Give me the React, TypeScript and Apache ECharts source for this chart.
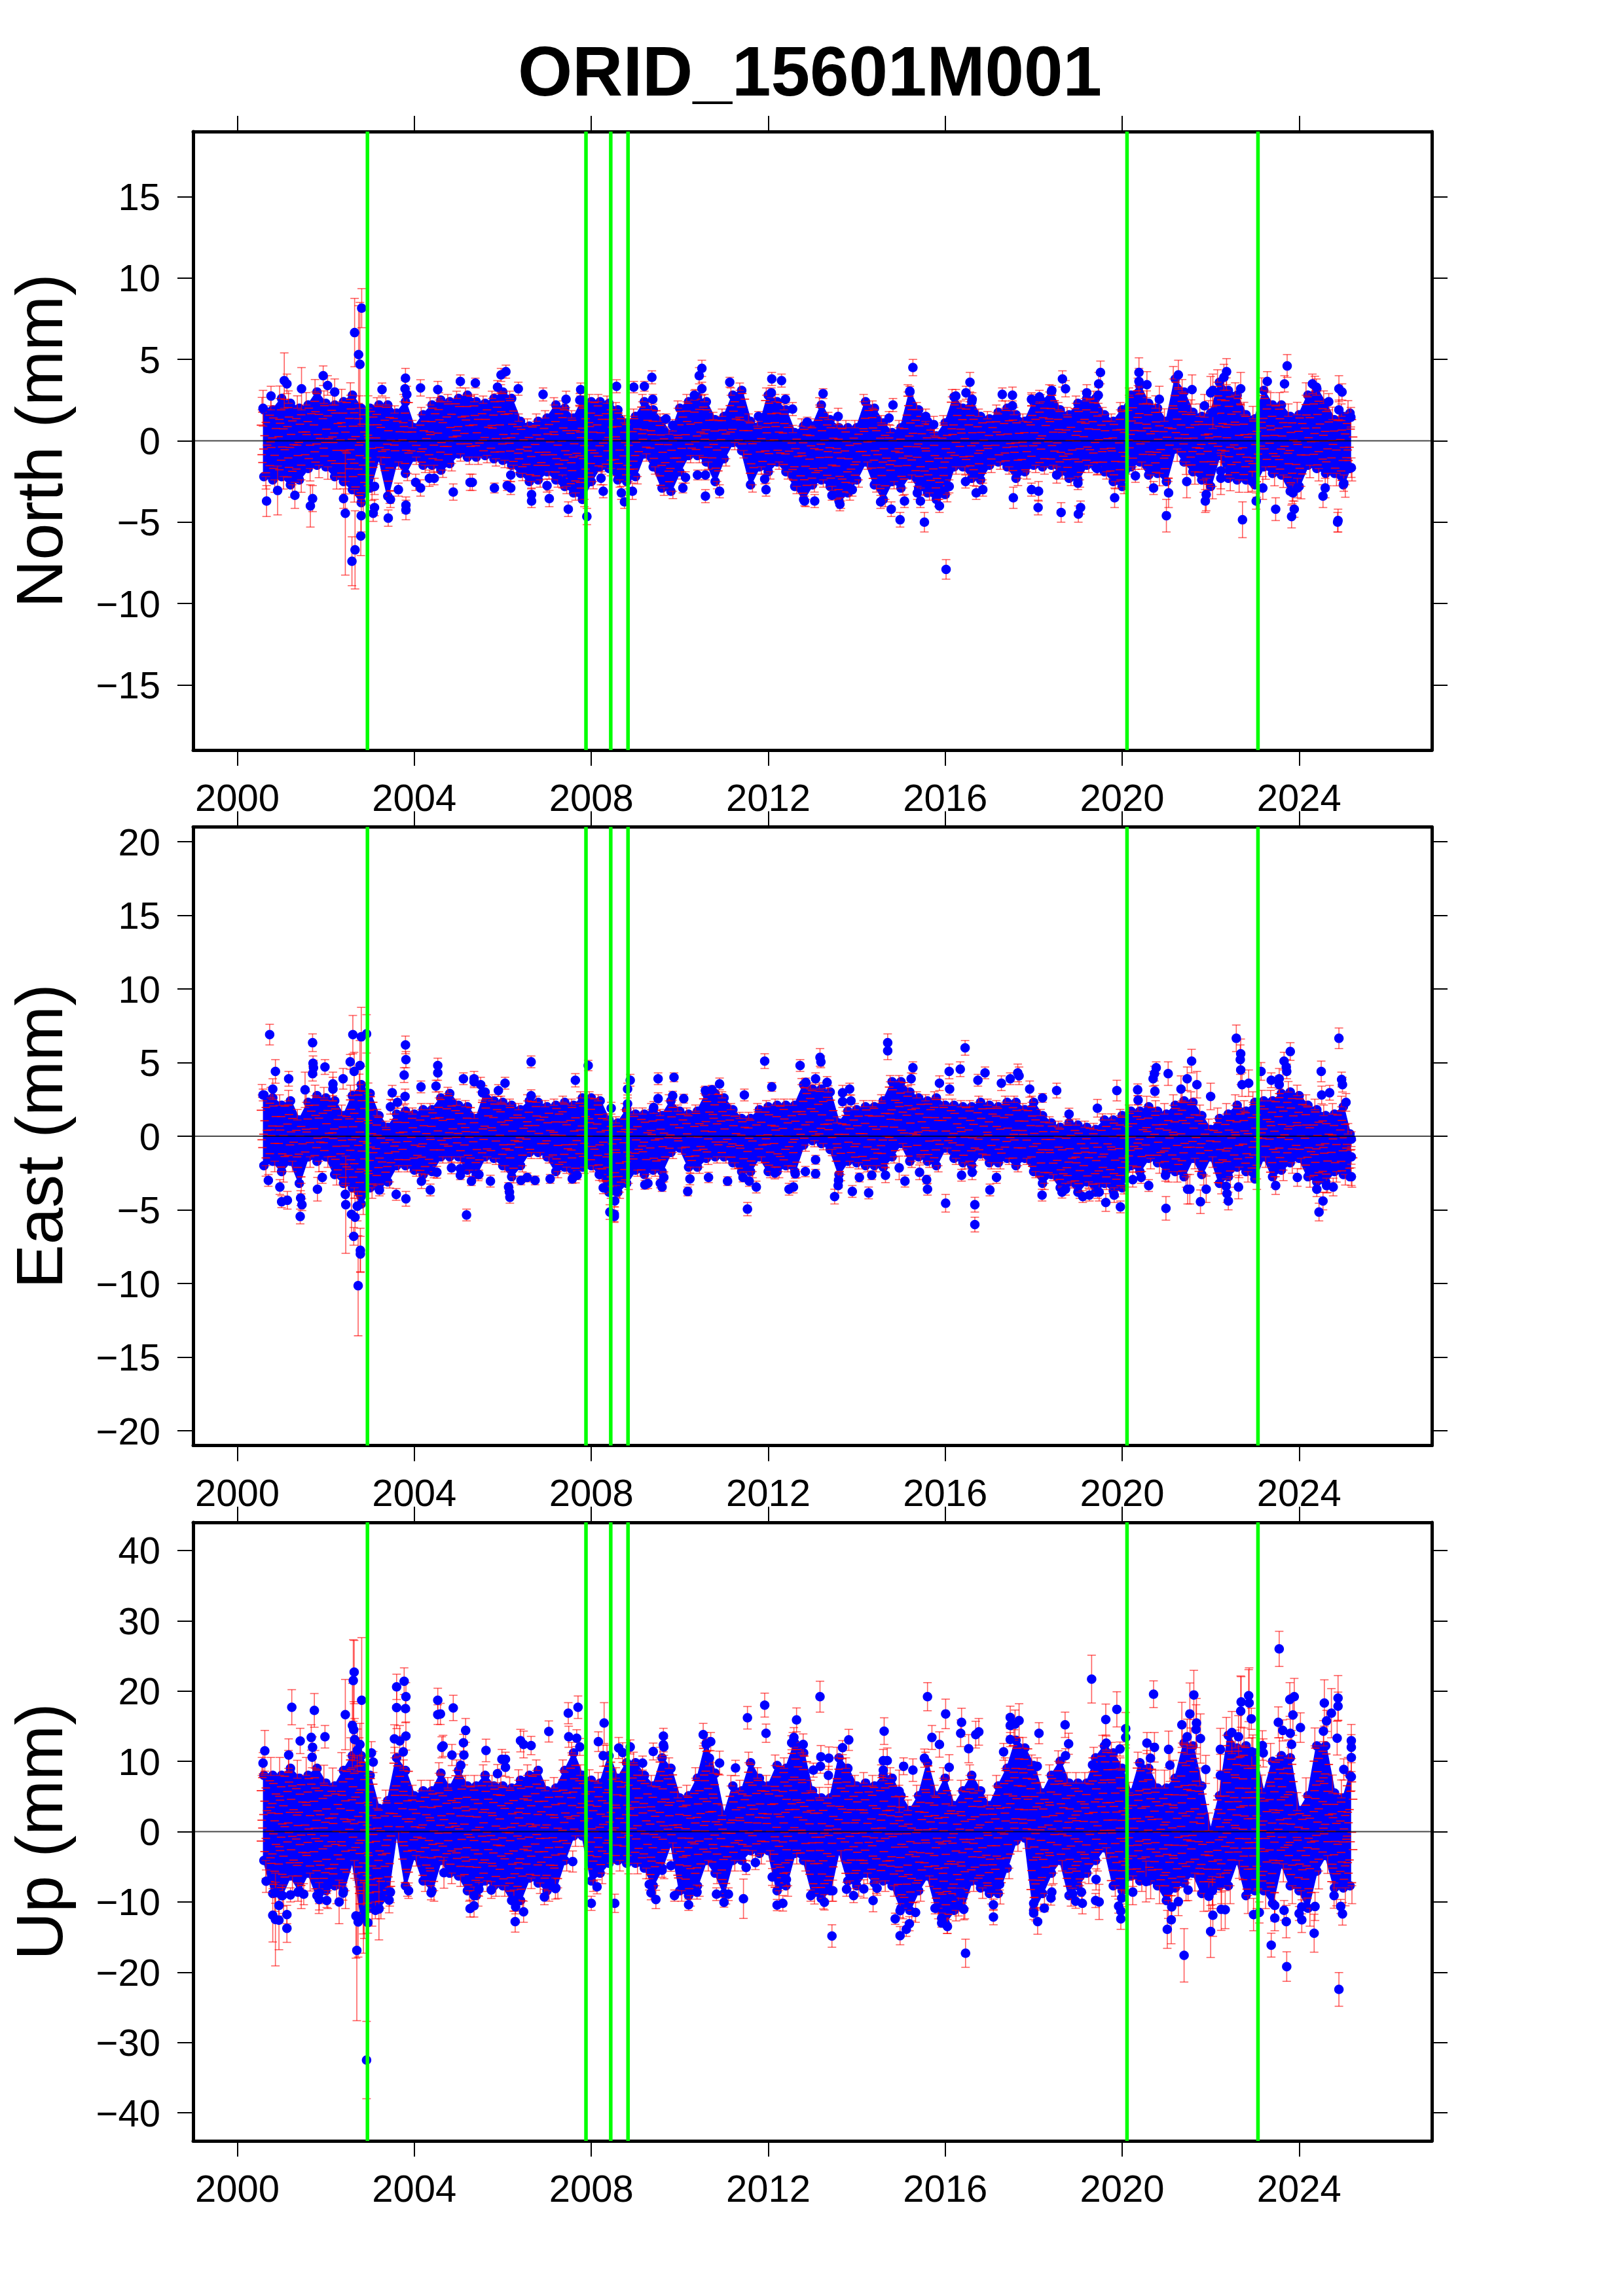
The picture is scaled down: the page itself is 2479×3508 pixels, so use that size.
import React, { useEffect, useRef } from "react";
import * as echarts from "echarts";

const title = "ORID_15601M001";
const yearTicks = [2000, 2004, 2008, 2012, 2016, 2020, 2024];
const northTicks = [-15, -10, -5, 0, 5, 10, 15];
const eastTicks = [-20, -15, -10, -5, 0, 5, 10, 15, 20];
const upTicks = [-40, -30, -20, -10, 0, 10, 20, 30, 40];
const offsetYears = [2002.94, 2007.88, 2008.44, 2008.83, 2020.11, 2023.07];

// Sample times of the dense core of each series (2000.6 to 2025.0 every 0.2, then the last epoch)
const coreYears = [
  2000.6, 2000.8, 2001.0, 2001.2, 2001.4, 2001.6, 2001.8, 2002.0, 2002.2, 2002.4,
  2002.6, 2002.8, 2003.0, 2003.2, 2003.4, 2003.6, 2003.8, 2004.0, 2004.2, 2004.4,
  2004.6, 2004.8, 2005.0, 2005.2, 2005.4, 2005.6, 2005.8, 2006.0, 2006.2, 2006.4,
  2006.6, 2006.8, 2007.0, 2007.2, 2007.4, 2007.6, 2007.8, 2008.0, 2008.2, 2008.4,
  2008.6, 2008.8, 2009.0, 2009.2, 2009.4, 2009.6, 2009.8, 2010.0, 2010.2, 2010.4,
  2010.6, 2010.8, 2011.0, 2011.2, 2011.4, 2011.6, 2011.8, 2012.0, 2012.2, 2012.4,
  2012.6, 2012.8, 2013.0, 2013.2, 2013.4, 2013.6, 2013.8, 2014.0, 2014.2, 2014.4,
  2014.6, 2014.8, 2015.0, 2015.2, 2015.4, 2015.6, 2015.8, 2016.0, 2016.2, 2016.4,
  2016.6, 2016.8, 2017.0, 2017.2, 2017.4, 2017.6, 2017.8, 2018.0, 2018.2, 2018.4,
  2018.6, 2018.8, 2019.0, 2019.2, 2019.4, 2019.6, 2019.8, 2020.0, 2020.2, 2020.4,
  2020.6, 2020.8, 2021.0, 2021.2, 2021.4, 2021.6, 2021.8, 2022.0, 2022.2, 2022.4,
  2022.6, 2022.8, 2023.0, 2023.2, 2023.4, 2023.6, 2023.8, 2024.0, 2024.2, 2024.4,
  2024.6, 2024.8, 2025.0, 2025.15,
];

const northHigh = [
  1.9, 1.9, 2.6, 2.3, 2.0, 2.2, 3.0, 2.3, 2.2, 2.4,
  2.8, 2.0, 2.0, 2.2, 2.2, 1.7, 2.4, 0.8, 1.6, 2.2,
  2.5, 2.4, 2.6, 2.8, 2.4, 2.3, 2.6, 3.0, 2.6, 1.2,
  0.9, 1.2, 1.4, 2.2, 2.0, 1.4, 2.5, 2.4, 2.4, 2.3,
  1.9, 1.1, 1.5, 2.4, 1.9, 1.2, 0.4, 2.0, 2.4, 2.7,
  2.4, 1.3, 1.5, 2.8, 3.1, 1.2, 0.9, 2.8, 2.4, 1.9,
  0.5, 0.9, 0.9, 2.2, 1.3, 0.8, 0.8, 0.8, 2.4, 2.0,
  1.1, 0.5, 0.8, 3.0, 1.9, 1.2, 0.3, 1.1, 2.7, 2.0,
  2.4, 1.5, 1.35, 1.75, 2.0, 1.6, 1.2, 2.4, 2.4, 3.0,
  1.9, 1.6, 2.3, 2.6, 2.6, 1.6, 1.2, 1.9, 2.8, 3.4,
  2.3, 2.0, 1.2, 3.8, 3.0, 1.75, 1.5, 1.7, 3.6, 3.1,
  2.8, 1.6, 1.35, 3.1, 2.2, 2.2, 1.5, 1.6, 2.8, 3.2,
  2.3, 1.3, 1.5, 1.7,
];
const northLow = [
  -2.2, -2.4, -2.2, -2.7, -2.4, -1.7, -1.5, -1.6, -2.2, -2.5,
  -3.0, -3.8, -2.9, -1.0, -3.4, -1.3, -2.0, -1.0, -1.5, -1.5,
  -1.8, -1.4, -0.8, -1.0, -1.0, -0.9, -1.1, -1.2, -1.5, -2.0,
  -2.5, -2.4, -1.9, -2.4, -2.8, -3.2, -3.6, -2.5, -1.6, -1.7,
  -2.4, -2.5, -2.2, -0.8, -1.6, -2.9, -3.1, -1.9, -0.9, -0.9,
  -1.3, -2.5, -1.1, -0.1, -0.6, -2.7, -1.6, -1.9, -1.3, -1.9,
  -2.8, -3.6, -2.7, -2.4, -2.8, -3.7, -3.2, -2.4, -1.3, -2.7,
  -3.6, -2.5, -2.9, -2.1, -2.9, -3.2, -3.6, -3.3, -1.6, -1.6,
  -2.3, -2.4, -1.5, -1.3, -1.6, -2.3, -1.9, -1.5, -1.6, -1.5,
  -1.9, -2.3, -2.4, -1.5, -1.6, -1.9, -2.5, -2.8, -1.6, -1.3,
  -2.1, -2.0, -2.5, -0.5, -1.3, -1.9, -2.4, -2.8, -0.9, -2.3,
  -2.4, -2.4, -2.7, -1.6, -2.0, -2.1, -3.1, -2.8, -1.5, -1.7,
  -2.0, -2.0, -2.7, -1.7,
];
const eastHigh = [
  2.8, 2.6, 2.1, 2.4, 1.1, 2.3, 2.75, 2.6, 2.4, 1.4,
  2.75, 3.5, 2.9, 1.4, 0.6, 1.5, 1.7, 1.5, 1.8, 1.8,
  2.6, 2.9, 2.1, 2.0, 1.2, 3.0, 2.4, 2.3, 2.1, 1.8,
  2.4, 2.3, 2.0, 2.1, 2.3, 2.1, 2.6, 2.6, 2.4, 1.1,
  0.9, 1.8, 1.5, 1.5, 1.8, 1.4, 2.4, 1.7, 1.5, 1.7,
  2.9, 2.9, 2.6, 1.8, 1.2, 1.2, 1.8, 2.0, 2.1, 2.1,
  2.1, 3.5, 3.2, 3.2, 3.0, 0.9, 1.7, 1.8, 2.0, 2.0,
  2.4, 3.7, 3.7, 3.0, 2.6, 2.4, 2.6, 2.1, 2.1, 2.0,
  2.0, 2.3, 2.1, 2.0, 2.3, 2.3, 1.8, 2.3, 1.4, 0.9,
  0.6, 0.9, 0.75, 0.6, 0.45, 1.1, 1.1, 1.4, 1.7, 1.7,
  2.0, 1.7, 1.5, 2.1, 2.4, 2.3, 1.4, 0.45, 1.2, 1.5,
  2.1, 1.7, 2.3, 2.4, 2.4, 2.9, 3.0, 2.75, 2.1, 1.8,
  1.4, 1.5, 2.0, 0.15,
];
const eastLow = [
  -2.0, -1.7, -2.4, -1.7, -3.2, -1.4, -1.7, -1.4, -2.6, -3.2,
  -3.5, -4.6, -3.5, -3.5, -3.1, -2.0, -2.0, -2.3, -2.6, -2.4,
  -1.4, -1.4, -1.4, -2.3, -2.6, -1.4, -1.5, -2.0, -2.75, -2.0,
  -1.1, -1.1, -1.4, -2.4, -2.1, -2.75, -2.1, -2.0, -2.6, -3.8,
  -3.8, -3.2, -2.3, -2.6, -2.3, -2.4, -1.1, -0.8, -2.1, -2.1,
  -1.5, -1.4, -1.4, -1.8, -2.4, -2.4, -1.4, -2.4, -2.4, -2.0,
  -2.4, -0.6, -0.3, -0.5, -0.9, -2.6, -1.7, -1.8, -2.0, -2.0,
  -2.1, -1.4, -0.5, -1.7, -1.4, -1.7, -2.0, -0.8, -1.5, -1.8,
  -2.0, -1.2, -1.8, -1.8, -1.5, -2.0, -1.5, -2.4, -3.2, -2.6,
  -3.5, -3.1, -3.8, -3.1, -3.8, -3.2, -3.7, -3.5, -2.0, -2.4,
  -1.5, -1.8, -2.4, -2.4, -2.75, -1.5, -2.6, -1.4, -3.2, -2.75,
  -2.1, -2.4, -2.9, -1.4, -2.75, -2.3, -1.8, -1.5, -2.75, -3.1,
  -3.1, -2.4, -2.6, -2.75,
];
const upHigh = [
  8.0, 8.0, 8.0, 9.0, 7.6, 8.0, 9.0, 6.9, 6.5, 8.7,
  10.8, 10.8, 8.0, 3.3, 4.4, 10.5, 8.7, 5.1, 5.8, 5.8,
  8.3, 6.2, 8.7, 6.5, 6.5, 8.0, 6.5, 6.5, 6.2, 7.3,
  8.0, 8.7, 5.8, 6.2, 8.7, 11.2, 8.0, 7.3, 6.9, 10.8,
  7.6, 9.8, 9.8, 8.0, 6.5, 10.5, 9.0, 4.8, 5.1, 7.6,
  12.6, 8.3, 2.3, 6.5, 5.8, 9.8, 7.6, 6.5, 9.4, 9.0,
  12.6, 11.2, 5.8, 4.8, 4.8, 10.5, 9.0, 6.5, 6.9, 6.5,
  8.0, 7.6, 5.1, 3.0, 5.1, 9.8, 5.1, 7.6, 3.7, 5.8,
  8.0, 5.8, 3.7, 6.5, 9.0, 13.0, 11.9, 9.4, 5.5, 8.0,
  10.0, 6.9, 6.9, 6.9, 10.5, 12.2, 11.2, 9.0, 5.5, 9.8,
  9.0, 6.2, 6.2, 7.6, 12.6, 12.2, 6.5, 0.1, 5.1, 13.7,
  11.9, 12.2, 11.2, 5.5, 10.0, 10.8, 10.5, 3.0, 5.1, 12.2,
  12.2, 5.5, 4.8, 8.0,
];
const upLow = [
  -4.1, -8.8, -9.1, -6.3, -8.4, -5.9, -9.1, -8.4, -7.7, -8.4,
  -4.1, -12.0, -10.9, -10.9, -9.1, 0.0, -7.7, -3.4, -7.0, -8.4,
  -4.1, -5.9, -6.3, -8.4, -9.1, -7.0, -7.7, -7.7, -9.8, -9.8,
  -6.6, -7.3, -8.4, -8.0, -4.1, -0.6, -0.6, -7.0, -5.9, -4.5,
  -4.1, -4.5, -4.5, -5.2, -7.7, -5.2, -1.6, -8.4, -9.1, -7.7,
  -4.1, -5.9, -8.8, -4.1, -4.1, -2.7, -3.1, -2.7, -8.4, -7.7,
  -3.1, -4.1, -8.8, -9.5, -8.4, -2.7, -7.0, -7.7, -5.9, -7.3,
  -7.0, -7.7, -10.9, -11.2, -8.4, -6.3, -10.9, -13.0, -11.2, -10.9,
  -7.0, -8.0, -8.8, -8.8, -5.2, -1.3, -0.9, -11.2, -8.8, -5.9,
  -4.1, -9.1, -7.7, -5.9, -4.1, -2.3, -7.7, -8.4, -6.3, -7.0,
  -7.0, -7.7, -9.8, -8.0, -7.3, -5.9, -8.8, -8.4, -7.7, -7.7,
  -4.1, -9.1, -8.4, -8.4, -10.2, -4.6, -7.7, -8.4, -10.9, -5.6,
  -3.4, -8.0, -8.0, -7.7,
];

// Separately readable epochs: [year, value, sigma]
const northPoints = [
  [2000.58,2.0,1.1],[2000.66,-3.7,0.95],[2000.76,2.75,0.6],[2001.06,3.7,1.7],[2001.12,3.5,0.6],[2000.91,-3.05,1.5],[2001.3,-3.35,0.8],[2001.45,3.2,1.3],[2001.65,-4.0,1.3],[2001.7,-3.55,0.8],
  [2001.94,4.0,0.6],[2002.04,3.4,0.6],[2002.2,3.0,0.8],[2002.4,-3.55,0.6],[2002.44,-4.45,3.8],[2002.65,6.65,2.1],[2002.74,5.3,3.0],[2002.81,8.15,1.2],[2002.77,4.7,3.8],[2002.59,-7.4,1.5],
  [2002.66,-6.7,2.4],[2002.79,-5.85,1.2],[2002.8,-4.6,1.0],[2003.1,-4.1,0.5],[2003.07,-4.45,0.5],[2003.1,-2.8,0.5],[2003.27,3.15,0.4],[2003.41,-4.75,0.5],[2003.46,-3.6,0.5],[2003.64,-3.0,0.4],
  [2003.8,3.85,0.6],[2003.79,3.2,0.5],[2003.83,2.85,0.5],[2003.81,-3.95,0.5],[2003.81,-4.25,0.6],[2004.14,3.25,0.5],[2004.03,-2.55,0.5],[2004.14,-2.9,0.5],[2004.53,3.15,0.5],[2004.34,-2.3,0.5],
  [2004.45,-2.3,0.4],[2004.88,-3.15,0.5],[2005.04,3.65,0.4],[2005.26,-2.55,0.5],[2005.31,-2.55,0.5],[2005.38,3.55,0.3],[2005.81,-2.9,0.3],[2006.1,-2.75,0.3],[2006.18,-2.9,0.4],[2006.07,4.25,0.4],
  [2005.96,4.05,0.4],[2005.88,3.3,0.4],[2006.35,3.2,0.4],[2006.18,-2.1,0.4],[2006.65,-3.3,0.4],[2006.65,-3.7,0.4],[2007.0,-2.75,0.4],[2007.05,-3.55,0.5],[2006.91,2.85,0.4],
  [2007.48,-4.2,0.45],[2007.76,3.15,0.4],[2007.35,-2.5,0.4],[2007.74,2.5,0.4],[2007.43,2.55,0.5],[2007.9,-4.65,0.5],[2008.27,-3.1,0.4],[2008.22,-2.3,0.4],[2008.57,3.35,0.4],[2008.68,-3.2,0.4],
  [2008.75,-3.75,0.4],[2008.96,3.3,0.35],[2008.93,-3.1,0.5],[2009.37,3.9,0.4],[2009.2,3.35,0.3],[2009.39,2.55,0.3],[2009.69,1.35,0.3],[2009.84,0.95,0.35],[2010.07,-2.9,0.3],[2010.13,-2.25,0.35],
  [2010.4,-2.1,0.3],[2010.58,-2.1,0.3],[2010.5,4.45,0.5],[2010.44,4.0,0.5],[2010.5,3.2,0.4],[2010.33,2.8,0.3],[2010.58,-3.4,0.4],[2010.9,-3.1,0.4],[2011.13,3.6,0.3],[2011.78,1.5,0.3],
  [2011.95,-3.0,0.4],[2011.92,-2.35,0.3],[2012.08,3.8,0.4],[2012.3,3.7,0.4],[2012.07,2.95,0.3],[2012.39,2.55,0.3],[2012.55,1.95,0.4],[2012.82,-3.7,0.3],[2013.05,-3.7,0.4],[2012.88,1.15,0.3],
  [2013.24,2.9,0.3],[2013.58,1.5,0.5],[2013.9,-3.0,0.4],[2013.62,-3.9,0.4],[2013.44,-3.35,0.3],[2014.82,2.2,0.4],[2014.73,1.4,0.4],[2014.54,-3.75,0.4],[2014.78,-4.2,0.45],[2014.98,-4.85,0.45],
  [2015.08,-3.7,0.4],[2015.27,4.5,0.5],[2015.2,3.05,0.3],[2015.44,-3.7,0.4],[2015.53,-5.0,0.6],[2015.87,-4.0,0.4],[2015.56,1.5,0.45],[2015.74,1.0,0.5],[2016.09,-2.8,0.4],[2015.37,-3.2,0.4],
  [2016.02,-7.9,0.6],[2016.56,3.6,0.6],[2016.47,2.95,0.4],[2016.61,2.55,0.4],[2016.24,2.75,0.4],[2016.46,-2.5,0.4],[2016.7,-3.2,0.4],[2016.85,-3.0,0.4],[2017.29,2.85,0.4],[2017.52,2.8,0.5],
  [2017.52,2.15,0.3],[2017.54,-3.5,0.65],[2017.95,-3.0,0.4],[2018.11,-3.1,0.6],[2018.1,-4.1,0.45],[2018.13,2.7,0.4],[2017.95,2.55,0.4],[2018.41,3.1,0.3],[2018.65,3.8,0.5],[2018.72,3.2,0.5],
  [2018.62,-4.4,0.6],[2019.06,-4.1,0.4],[2019.01,-4.5,0.5],[2019.0,-2.6,0.4],[2018.52,-2.1,0.5],[2019.51,4.2,0.7],[2019.47,3.5,0.7],[2019.46,2.8,0.5],[2019.2,2.95,0.5],[2019.83,-3.5,0.6],
  [2019.43,-1.7,0.4],[2020.38,4.2,0.9],[2020.38,3.65,0.8],[2020.56,3.45,0.8],[2020.84,2.55,0.8],[2020.3,-2.15,0.4],[2020.71,-2.9,0.4],[2021.05,-3.2,0.9],[2021.0,-4.6,1.0],[2021.27,4.05,0.9],
  [2021.58,3.15,0.9],[2021.86,2.15,0.7],[2021.46,-2.5,1.0],[2021.9,-3.3,1.0],[2021.88,-3.7,0.7],[2022.05,3.1,1.0],[2022.0,2.95,1.0],[2022.05,1.75,1.0],[2022.36,4.25,0.8],[2022.3,3.9,0.8],
  [2022.68,3.2,1.0],[2022.23,-1.85,1.1],[2022.23,-2.3,1.0],[2022.72,-4.85,1.1],[2022.94,-2.5,0.6],[2023.03,-3.7,0.5],[2023.18,-2.9,0.7],[2023.47,-4.2,0.7],[2023.89,-4.2,0.5],[2023.83,-4.65,0.7],
  [2023.28,3.65,0.6],[2023.67,3.5,0.5],[2023.73,4.6,0.7],[2024.3,3.5,0.6],[2024.39,3.3,0.5],[2024.67,2.4,0.5],[2024.9,3.2,0.8],[2024.97,3.0,0.5],[2024.9,1.9,0.6],[2024.59,-2.9,0.6],
  [2024.54,-3.4,0.7],[2024.88,-4.9,0.7],[2024.87,-5.0,0.6],[2023.86,-3.2,0.5],[2023.96,-2.9,0.6],[2025.01,-2.6,0.5],[2025.18,-1.65,0.6],[2025.17,1.45,0.6],
];
const eastPoints = [
  [2000.73,6.9,0.7],[2000.58,2.8,0.4],[2000.7,-3.0,0.4],[2000.86,4.4,0.8],[2000.96,-3.45,0.5],[2001.0,-4.45,0.4],[2001.13,-4.35,0.6],[2001.16,3.9,0.5],[2000.8,3.2,0.7],[2001.42,-5.45,0.5],
  [2001.46,-4.65,0.4],[2001.43,-4.2,0.5],[2001.7,6.35,0.6],[2001.71,4.95,0.5],[2001.7,4.25,0.5],[2001.72,4.65,0.5],[2001.98,4.7,0.5],[2001.53,3.15,1.2],[2001.81,-3.6,0.8],[2002.16,3.55,0.8],
  [2002.16,3.2,0.8],[2002.39,3.9,0.7],[2001.92,-2.8,0.4],[2002.44,-3.95,0.6],[2002.45,-4.65,3.3],[2002.58,-5.3,1.5],[2002.66,-5.5,1.3],[2002.63,-6.8,0.6],[2002.61,6.9,1.3],[2002.55,5.05,0.5],
  [2002.8,6.75,2.0],[2002.92,6.95,1.3],[2002.77,4.8,1.7],[2002.64,4.4,1.3],[2002.73,-10.15,3.4],[2002.78,-7.75,1.5],[2002.78,-8.0,1.2],[2002.71,-4.75,1.0],[2003.8,6.2,0.6],[2003.81,5.2,0.55],
  [2003.77,4.15,0.5],[2003.79,2.7,0.5],[2003.5,2.95,0.5],[2003.62,2.3,0.4],[2003.46,2.0,0.5],[2003.81,-4.25,0.5],[2003.59,-3.95,0.4],[2003.21,-3.65,0.4],[2004.15,3.35,0.4],[2004.53,4.8,0.5],
  [2004.53,4.3,0.5],[2004.49,3.4,0.4],[2004.36,-3.65,0.4],[2004.16,-3.05,0.5],[2004.51,-2.45,0.4],[2005.11,3.9,0.4],[2005.35,3.9,0.5],[2005.35,3.7,0.4],[2005.5,3.5,0.5],[2005.54,2.95,0.5],
  [2005.9,3.1,0.4],[2006.05,3.6,0.4],[2004.84,-2.15,0.4],[2005.04,-2.2,0.4],[2005.04,-2.65,0.3],[2005.18,-5.35,0.4],[2005.29,-3.05,0.3],[2005.46,-2.6,0.3],[2005.72,-3.05,0.4],[2006.13,-3.45,0.3],
  [2006.16,-4.15,0.4],[2006.15,-3.8,0.3],[2006.64,5.05,0.4],[2006.64,2.75,0.4],[2006.41,-3.0,0.3],[2006.73,-3.0,0.3],[2006.55,-2.8,0.3],[2007.07,-2.9,0.3],[2007.57,-2.9,0.3],[2007.68,-2.65,0.3],
  [2007.64,3.8,0.45],[2007.93,4.8,0.35],[2008.42,-5.15,0.5],[2008.52,-5.45,0.4],[2008.52,-5.3,0.5],[2008.27,-3.5,0.4],[2008.53,-4.4,0.4],[2008.56,-3.75,0.4],[2008.18,-2.6,0.4],[2008.88,3.8,0.4],
  [2008.82,3.2,0.4],[2008.82,2.2,0.4],[2008.45,1.9,0.4],
  [2009.51,3.9,0.4],[2009.51,2.55,0.4],[2009.87,4.0,0.3],[2009.84,2.75,0.3],[2010.09,2.55,0.3],[2009.41,1.95,0.4],[2009.21,-3.3,0.3],[2009.28,-3.2,0.35],[2009.6,-3.45,0.3],[2009.56,-3.2,0.3],
  [2009.64,-2.8,0.3],[2010.18,-3.75,0.3],[2010.23,-2.9,0.4],[2010.65,-2.8,0.35],[2011.08,-3.05,0.3],[2010.9,3.55,0.4],[2010.58,3.1,0.3],[2010.73,3.15,0.3],[2011.46,2.8,0.4],[2011.92,5.1,0.5],
  [2012.08,3.35,0.3],[2011.53,-4.95,0.45],[2011.73,-3.45,0.4],[2011.43,-2.8,0.3],[2011.57,-3.05,0.35],[2012.47,-3.6,0.4],[2012.57,-3.45,0.4],[2012.15,-2.5,0.4],[2012.61,-2.55,0.3],[2012.84,-2.4,0.35],
  [2013.07,-2.55,0.3],[2013.07,-1.6,0.3],[2012.72,4.8,0.4],[2013.17,5.35,0.6],[2013.19,5.05,0.4],[2013.07,3.9,0.4],[2013.33,3.65,0.4],[2012.85,3.65,0.3],[2013.5,-4.1,0.5],[2013.58,-3.35,0.5],
  [2013.59,-3.0,0.5],[2013.68,2.95,0.5],[2013.68,2.35,0.4],[2013.84,3.2,0.4],[2013.87,2.4,0.4],[2013.9,-3.75,0.4],[2014.27,-3.85,0.4],[2014.06,-2.8,0.3],[2014.34,-2.65,0.3],[2014.65,-2.65,0.5],
  [2014.7,6.35,0.6],[2014.7,5.8,0.6],[2015.27,4.65,0.4],[2015.23,3.9,0.4],[2015.09,-3.05,0.4],[2014.96,-2.15,0.8],[2015.42,-2.45,0.5],[2015.6,-3.6,0.4],[2015.58,-2.95,0.3],[2015.87,3.6,0.5],
  [2016.09,4.4,0.5],[2016.1,3.2,0.4],[2016.34,4.55,0.5],[2016.45,6.0,0.5],[2016.01,-4.55,0.6],[2016.67,-4.65,0.5],[2016.67,-6.0,0.5],[2016.37,-2.65,0.4],[2016.61,-2.45,0.5],[2017.01,-3.65,0.4],
  [2017.16,-2.8,0.4],[2016.74,3.8,0.4],[2016.9,4.3,0.4],[2017.27,3.6,0.5],[2017.47,3.9,0.4],[2017.64,4.3,0.6],[2017.67,4.1,0.6],[2017.91,3.2,0.55],
  [2018.52,3.1,0.5],[2018.2,2.6,0.3],[2018.8,1.5,0.4],[2019.44,1.9,0.6],[2019.88,3.1,0.7],[2018.64,-3.8,0.4],[2018.72,-3.6,0.4],[2019.11,-4.1,0.4],[2019.26,-4.0,0.4],[2019.63,-4.5,0.6],
  [2019.96,-4.8,0.4],[2019.48,-3.8,0.6],[2018.19,-4.0,0.4],[2019.82,-4.0,0.5],[2020.35,3.15,0.4],[2020.36,2.45,0.3],[2020.77,4.65,0.4],[2020.73,4.25,0.5],[2020.7,3.9,0.5],[2020.74,3.05,0.4],
  [2021.04,4.25,0.8],[2021.47,3.9,0.8],[2021.57,5.1,0.8],[2021.69,3.5,0.9],[2022.0,2.7,0.9],[2021.33,3.2,0.9],[2020.24,-2.95,0.5],[2020.6,-3.35,0.4],[2020.43,-2.8,0.4],[2020.99,-4.9,0.8],
  [2021.48,-3.6,1.0],[2021.53,-3.6,1.0],[2021.77,-4.45,0.8],[2021.9,-3.6,0.9],[2020.98,-2.65,0.4],[2022.58,6.65,0.9],[2022.68,5.6,1.0],[2022.67,5.2,1.0],[2022.68,4.5,1.0],[2022.71,3.5,0.8],
  [2022.86,3.6,0.9],[2023.14,4.4,0.6],[2023.37,3.8,0.5],[2023.55,3.9,0.7],[2023.55,3.5,0.6],[2023.66,5.1,0.6],[2023.8,5.75,0.6],[2023.71,4.7,0.5],[2023.72,4.4,0.5],[2024.5,4.4,0.7],
  [2024.9,6.65,0.7],[2024.96,3.85,0.5],[2024.98,3.5,0.5],[2024.69,2.95,0.5],[2024.51,2.8,0.6],[2022.4,-4.4,0.6],[2022.37,-3.9,0.6],[2022.63,-3.45,0.8],[2022.35,-3.4,0.5],[2023.47,-3.35,0.6],
  [2024.4,-3.6,0.5],[2024.54,-4.4,0.6],[2024.45,-5.15,0.6],[2024.62,-3.35,0.5],[2024.77,-3.45,0.6],[2023.96,-2.8,0.6],[2025.18,-2.75,0.6],[2025.18,-1.4,0.5],[2025.06,2.3,0.6],[2025.18,-0.2,0.5],
];
const upPoints = [
  [2001.23,17.7,2.5],[2001.74,17.25,2.4],[2001.98,13.5,1.6],[2001.42,12.9,1.8],[2001.67,13.4,1.8],[2001.7,12.0,1.5],[2000.62,11.5,2.9],[2000.58,9.75,1.5],[2001.16,10.9,2.3],[2001.69,10.6,1.5],
  [2000.65,-7.05,1.6],[2000.8,-11.9,3.8],[2000.86,-12.5,6.6],[2000.94,-12.6,4.2],[2001.12,-13.75,2.0],[2001.12,-11.8,1.3],[2000.94,-10.5,1.5],[2000.86,-8.7,1.5],[2001.02,-9.1,1.5],[2001.2,-9.0,1.0],
  [2001.37,-8.6,1.3],[2001.5,-8.9,1.5],[2001.85,-8.75,1.5],[2001.85,-9.65,1.5],[2002.02,-9.8,1.0],[2002.3,-10.0,3.1],[2002.39,-8.75,1.0],[2002.44,16.65,5.0],[2002.6,15.1,6.0],[2002.64,22.7,4.5],
  [2002.62,21.5,5.8],[2002.81,18.7,8.9],[2002.63,14.5,4.0],[2002.65,13.1,3.0],[2002.77,12.4,3.0],[2002.71,11.6,3.0],[2002.7,-16.9,10.0],[2002.68,-12.0,6.0],[2002.73,-12.85,5.0],[2002.85,-12.3,5.0],
  [2002.95,-12.95,1.5],[2002.87,-11.2,4.0],[2002.92,-32.5,5.5],[2003.12,-11.2,1.2],[2003.2,-11.0,4.4],[2003.43,-9.75,1.8],[2003.46,-8.6,1.5],[2003.03,11.2,1.6],[2003.07,9.9,1.5],[2003.6,20.6,1.8],
  [2003.77,21.4,1.9],[2003.81,19.2,2.0],[2003.6,17.65,3.0],[2003.8,17.5,2.0],[2003.81,13.6,2.0],[2003.55,13.2,2.0],[2003.75,11.35,2.3],[2003.67,12.9,2.2],[2003.87,-8.4,1.1],[2004.38,-8.7,1.0],
  [2004.67,-5.85,2.2],[2004.53,18.7,1.7],[2004.53,16.65,1.4],[2004.59,16.75,1.5],[2004.88,17.6,1.8],[2004.62,12.0,1.5],[2004.65,12.2,1.5],[2005.16,14.4,1.7],[2005.11,12.65,1.2],[2004.85,10.9,1.5],
  [2005.12,10.9,1.4],[2005.05,9.45,1.6],[2005.26,-10.95,1.2],[2005.35,-10.55,1.6],[2005.35,-9.1,1.2],[2005.46,-8.2,1.0],[2005.74,-8.3,1.2],[2005.62,11.55,1.6],[2005.98,10.3,1.4],[2006.06,10.3,1.0],
  [2006.06,9.15,1.3],[2005.88,8.25,1.3],[2006.4,12.95,1.6],[2006.47,12.4,1.9],[2006.64,12.25,1.3],[2006.28,-12.8,1.5],[2006.47,-11.4,1.5],[2006.25,-9.8,1.5],[2006.29,-10.7,1.0],[2007.04,14.25,1.5],
  [2006.94,-9.3,1.1],[2007.58,-4.25,1.5],[2007.19,-8.1,1.5],[2007.48,16.85,1.5],[2007.7,17.7,1.6],[2007.49,13.5,1.5],[2007.67,13.3,1.2],[2007.74,12.05,1.2],[2008.29,15.45,2.9],[2008.16,12.8,1.4],
  [2008.27,10.8,1.5],[2008.62,11.9,1.5],[2008.71,11.25,1.4],[2008.88,12.05,1.0],[2008.0,-10.2,1.0],[2008.53,-10.2,1.3],[2008.13,-7.85,1.0],
  [2009.4,11.4,1.2],[2009.63,13.6,1.1],[2009.64,12.05,1.2],[2009.63,12.35,1.0],[2009.16,9.75,1.0],[2010.53,13.8,1.6],[2010.7,12.8,1.3],[2010.6,12.4,1.0],[2010.67,10.45,1.1],[2010.9,9.75,1.7],
  [2009.46,-9.65,1.3],[2009.35,-8.7,1.0],[2009.31,-7.5,0.8],[2009.6,-5.5,1.0],[2010.2,-10.4,0.8],[2009.88,-9.1,0.8],[2009.8,-4.85,0.8],[2010.39,-8.6,1.0],[2011.0,-10.05,0.7],[2011.44,-9.55,2.8],
  [2011.5,-5.1,1.0],[2011.71,-4.4,1.0],[2010.83,-8.9,0.9],[2011.1,-8.9,0.9],[2011.53,16.2,1.6],[2011.92,18.0,1.7],[2011.95,14.0,1.3],[2012.64,15.9,1.7],[2011.26,9.05,1.1],[2012.58,13.4,1.4],
  [2012.53,12.65,1.0],[2012.79,12.4,1.5],[2013.17,19.2,2.2],[2013.19,10.65,1.6],[2013.18,9.3,1.0],[2013.37,10.45,1.6],[2013.36,8.0,1.3],[2013.02,8.75,1.0],[2012.2,-10.45,0.8],[2012.33,-10.2,1.1],
  [2012.09,-6.45,1.2],[2012.41,-6.8,1.0],[2012.96,-9.1,0.8],[2013.27,-10.05,1.1],[2013.44,-14.85,1.6],[2013.46,-8.4,1.5],[2013.77,-8.2,1.0],[2013.93,-9.1,1.0],[2014.16,-8.15,1.3],[2014.37,-9.8,1.6],
  [2014.46,-8.05,1.0],[2013.82,13.05,1.5],[2013.68,11.95,1.0],[2014.62,14.3,1.9],[2014.6,10.1,1.6],[2014.69,10.1,1.8],[2014.6,8.75,1.5],[2015.06,9.3,1.2],[2015.27,8.75,1.6],[2014.96,5.75,3.0],
  [2014.87,-12.4,0.8],[2014.98,-14.8,1.3],[2015.12,-13.9,1.0],[2015.19,-13.1,1.0],[2015.33,-11.5,1.4],[2014.98,-11.25,1.0],[2015.6,19.2,2.0],[2016.01,16.75,2.1],[2015.7,13.4,1.7],[2015.87,12.4,1.8],
  [2015.53,10.45,1.3],[2016.09,9.15,1.8],[2016.37,15.55,2.0],[2016.35,14.0,1.9],[2016.69,13.8,1.9],[2016.76,14.2,1.9],[2016.53,11.8,2.0],[2016.46,-17.3,2.0],[2016.35,-8.75,0.7],[2015.92,-12.3,0.7],
  [2016.05,-13.5,1.0],[2015.92,-13.0,0.6],[2015.77,-10.9,0.8],[2016.42,-11.05,1.5],[2016.3,-10.5,1.5],[2017.09,-10.4,0.8],[2017.09,-12.15,1.1],[2017.23,-7.5,0.8],[2017.47,16.25,1.6],[2017.67,15.8,2.4],
  [2017.47,15.1,1.5],[2017.58,15.3,2.0],[2017.47,13.1,1.0],[2017.32,11.35,1.2],[2018.0,-11.6,0.9],[2018.09,-12.8,1.8],[2018.0,-10.2,0.8],[2018.12,14.0,1.5],[2018.08,9.3,1.2],
  [2018.71,15.2,1.8],[2018.79,12.5,1.5],[2018.72,10.8,1.0],[2019.31,21.7,3.4],[2019.88,17.4,2.5],[2019.63,15.95,2.2],[2020.08,14.65,2.3],[2020.08,13.4,1.5],[2019.64,12.6,1.0],[2019.33,9.5,1.0],
  [2019.95,11.75,1.0],[2018.39,-9.45,1.0],[2018.41,-8.6,1.0],[2018.24,-10.9,0.5],[2018.88,-8.85,0.8],[2018.95,-9.9,1.0],[2019.1,-10.2,1.5],[2019.08,-8.6,1.4],[2019.4,-9.8,1.0],[2019.48,-10.0,2.5],
  [2019.41,-6.8,1.5],[2019.97,-12.4,1.5],[2019.97,-11.3,1.0],[2019.92,-10.6,1.0],[2019.99,-9.45,1.2],[2020.24,-8.6,1.8],[2020.54,-7.1,2.9],[2020.71,19.55,1.9],[2020.56,12.6,1.5],[2020.73,12.0,2.1],
  [2021.05,11.7,2.6],[2021.08,9.45,2.3],[2020.64,10.45,2.1],[2021.35,15.2,3.2],[2021.53,16.75,4.4],[2021.62,19.45,3.5],[2021.68,15.45,3.5],[2021.67,14.55,3.5],[2021.77,13.25,3.5],[2021.47,13.5,2.5],
  [2021.89,8.85,2.0],[2021.02,-13.9,2.7],[2021.11,-12.55,3.4],[2021.4,-17.6,3.8],[2022.0,-14.2,3.7],[2022.05,-11.9,3.0],[2021.12,-10.7,1.6],[2021.27,-9.95,2.0],[2021.49,-8.3,1.5],[2021.96,-9.2,2.1],
  [2022.04,-8.4,2.0],[2022.24,-11.05,3.0],[2022.33,-11.1,2.7],[2022.22,11.7,3.0],[2022.22,8.0,3.0],[2022.22,-7.3,1.3],[2022.69,18.45,3.6],[2022.86,19.35,3.7],[2022.68,17.15,5.0],[2022.87,18.3,5.0],
  [2022.92,16.05,1.5],[2022.48,14.1,3.0],[2022.63,13.5,3.0],[2022.93,11.35,2.0],[2023.1,-11.5,1.5],[2022.97,-11.8,2.3],[2023.17,12.25,2.1],[2023.19,11.2,2.0],[2023.55,26.0,2.5],[2023.53,15.55,2.2],
  [2023.79,18.8,2.4],[2023.89,19.2,2.6],[2023.86,16.6,2.9],[2024.03,14.8,2.1],[2023.8,14.0,2.0],[2023.63,14.4,1.5],[2023.83,12.4,2.0],[2023.37,-16.15,1.7],[2023.72,-19.2,2.1],[2023.45,-12.3,1.8],
  [2023.71,-12.8,2.3],[2023.66,-11.2,1.4],[2023.45,-10.5,1.8],[2024.06,-12.55,1.8],[2024.0,-11.65,1.0],[2024.06,-10.7,1.0],[2024.34,-14.45,2.7],[2024.36,-10.65,2.0],[2024.57,18.3,3.3],[2024.88,19.0,3.2],
  [2024.88,17.85,2.0],[2024.73,16.85,3.5],[2024.62,15.75,1.5],[2024.86,13.3,2.4],[2024.55,14.3,1.5],[2025.18,12.95,2.3],[2025.18,12.0,1.8],[2025.18,10.55,2.0],[2025.18,7.8,2.0],[2025.01,8.85,1.5],
  [2024.9,-22.45,2.4],[2024.98,-11.7,1.6],[2024.94,-10.65,1.0],[2024.79,-9.1,1.8],
];

const panels = [
  { name: "North (mm)", lim: 19, ticks: northTicks, high: northHigh, low: northLow, points: northPoints, sigma: 0.45 },
  { name: "East (mm)", lim: 21, ticks: eastTicks, high: eastHigh, low: eastLow, points: eastPoints, sigma: 0.42 },
  { name: "Up (mm)", lim: 44, ticks: upTicks, high: upHigh, low: upLow, points: upPoints, sigma: 1.5 },
];

const FONT = "'Liberation Sans', Arial, sans-serif";
const BLUE = "#0000ff";
const RED = "rgba(255,0,0,0.62)";
const DOT = 14.5;
const CAP = 6.5;
const ROW = 11;
const texture = [0.31, 0.74, 0.12, 0.58, 0.9, 0.44, 0.22];

const minus = (v: number) => String(v).replace("-", "\u2212");

function redBar(x: number, y1: number, y2: number) {
  return [
    { type: "line", shape: { x1: x, y1, x2: x, y2 }, style: { stroke: RED, lineWidth: 1.6 } },
    { type: "line", shape: { x1: x - CAP, y1, x2: x + CAP, y2: y1 }, style: { stroke: RED, lineWidth: 1.6 } },
    { type: "line", shape: { x1: x - CAP, y1: y2, x2: x + CAP, y2 }, style: { stroke: RED, lineWidth: 1.6 } },
  ];
}

function buildOption() {
  const grid: any[] = [];
  const xAxis: any[] = [];
  const yAxis: any[] = [];
  const series: any[] = [];
  const line = { show: true, onZero: false, lineStyle: { color: "#000", width: 5 } };
  const tick = { show: true, length: 24, lineStyle: { color: "#000", width: 2 } };

  panels.forEach((p, i) => {
    grid.push({ left: 295, width: 1892, top: 201 + i * 1062.5, height: 945, containLabel: false, outerBoundsMode: "none" });
    for (const pos of ["bottom", "top"]) {
      xAxis.push({
        type: "value", gridIndex: i, position: pos, min: 1999, max: 2027,
        axisLine: line, splitLine: { show: false },
        axisTick: { ...tick, customValues: yearTicks },
        axisLabel: pos === "bottom"
          ? { show: true, customValues: yearTicks, margin: 43, fontSize: 58, fontFamily: FONT, color: "#000", formatter: (v: number) => String(v) }
          : { show: false },
      });
    }
    for (const pos of ["left", "right"]) {
      yAxis.push({
        type: "value", gridIndex: i, position: pos, min: -p.lim, max: p.lim,
        axisLine: line, splitLine: { show: false },
        axisTick: { ...tick, customValues: p.ticks },
        axisLabel: pos === "left"
          ? { show: true, customValues: p.ticks, margin: 50, fontSize: 58, fontFamily: FONT, color: "#000", formatter: minus }
          : { show: false },
        ...(pos === "left"
          ? { name: p.name, nameLocation: "middle", nameRotate: 90, nameGap: 185, nameTextStyle: { fontSize: 101, fontFamily: FONT, color: "#000" } }
          : {}),
      });
    }
    const xi = i * 2;
    const yi = i * 2;
    const coreData = coreYears.map((t, k) => [t, p.high[k], p.low[k]]);

    // body of the dense core, between the upper and lower dots of each sample
    series.push({
      type: "custom", xAxisIndex: xi, yAxisIndex: yi, z: 2, silent: true, clip: false,
      encode: { x: 0, y: [1, 2] },
      data: coreData,
      renderItem: (params: any, api: any) => {
        const k = params.dataIndex;
        const next = coreData[Math.min(k + 1, coreData.length - 1)];
        const a = api.coord([api.value(0), api.value(1)]);
        const b = api.coord([next[0], next[1]]);
        const c = api.coord([next[0], next[2]]);
        const d = api.coord([api.value(0), api.value(2)]);
        return {
          type: "polygon",
          shape: { points: [a, b, c, d] },
          style: { fill: BLUE, stroke: BLUE, lineWidth: 3, lineJoin: "round" },
        };
      },
    });

    // upper and lower dots of the dense core: they give the outline its beads
    series.push({
      type: "scatter", xAxisIndex: xi, yAxisIndex: yi, z: 2, silent: true,
      symbol: "circle", symbolSize: DOT,
      itemStyle: { color: BLUE, opacity: 1 },
      data: coreYears.flatMap((t, k) => [[t, p.high[k]], [t, p.low[k]]]),
    });

    // error bars of the dense core: fringe outside it and caps seen through the dots
    series.push({
      type: "custom", xAxisIndex: xi, yAxisIndex: yi, z: 3, silent: true, clip: false,
      encode: { x: 0, y: [1, 2] },
      data: coreData,
      renderItem: (params: any, api: any) => {
        const t = api.value(0);
        const hi = api.value(1);
        const lo = api.value(2);
        const [x, yHi] = api.coord([t, hi]);
        const [, yLo] = api.coord([t, lo]);
        const wide = t < 2003.2 || t > 2020.4 ? 1.7 : 1;
        const [, yErrHi] = api.coord([t, hi + p.sigma * wide]);
        const [, yErrLo] = api.coord([t, lo - p.sigma * wide]);
        const children: any[] = [...redBar(x - 3, yErrHi, yHi), ...redBar(x + 3, yLo, yErrLo)];
        const rows = Math.floor((yLo - yHi) / ROW);
        for (let r = 0; r < rows; r++) {
          const f = texture[(params.dataIndex + r) % texture.length];
          const y = yHi + (r + f) * ROW;
          const dx = (texture[(params.dataIndex * 2 + r) % texture.length] - 0.5) * 12;
          children.push({ type: "line", shape: { x1: x - 6.5 + dx, y1: y, x2: x + 6.5 + dx, y2: y }, style: { stroke: "#ff0000", lineWidth: 1.7, opacity: 0.9 } });
        }
        return { type: "group", children };
      },
    });

    series.push({
      type: "custom", xAxisIndex: xi, yAxisIndex: yi, z: 4, silent: true, clip: true,
      encode: { x: 0, y: 1 },
      data: p.points,
      renderItem: (_: any, api: any) => {
        const t = api.value(0);
        const v = api.value(1);
        const e = api.value(2);
        const [x, y1] = api.coord([t, v + e]);
        const [, y2] = api.coord([t, v - e]);
        return { type: "group", children: redBar(x, y1, y2) };
      },
    });

    series.push({
      type: "scatter", xAxisIndex: xi, yAxisIndex: yi, z: 5, silent: true,
      symbol: "circle", symbolSize: DOT,
      itemStyle: { color: BLUE, opacity: 1 },
      data: p.points.map((d) => [d[0], d[1]]),
    });

    series.push({
      type: "line", xAxisIndex: xi, yAxisIndex: yi, z: 6, silent: true, showSymbol: false,
      lineStyle: { color: "rgba(0,0,0,0.72)", width: 2 },
      data: [[1999, 0], [2027, 0]],
    });

    offsetYears.forEach((t) => {
      series.push({
        type: "line", xAxisIndex: xi, yAxisIndex: yi, z: 7, silent: true, showSymbol: false,
        lineStyle: { color: "#00ff00", width: 5.5 },
        data: [[t, -p.lim], [t, p.lim]],
      });
    });
  });

  return {
    animation: false,
    backgroundColor: "#fff",
    title: {
      text: title, left: 1232, top: 50, textAlign: "center",
      textStyle: { fontSize: 107, fontWeight: "bold", fontFamily: FONT, color: "#000" },
    },
    grid, xAxis, yAxis, series,
  };
}

export default function App() {
  const ref = useRef<HTMLDivElement>(null);
  useEffect(() => {
    document.body.style.margin = "0";
    const chart = echarts.init(ref.current!, undefined, { renderer: "svg" });
    chart.setOption(buildOption() as any);
    return () => chart.dispose();
  }, []);
  return <div ref={ref} style={{ width: 2479, height: 3508 }} />;
}
